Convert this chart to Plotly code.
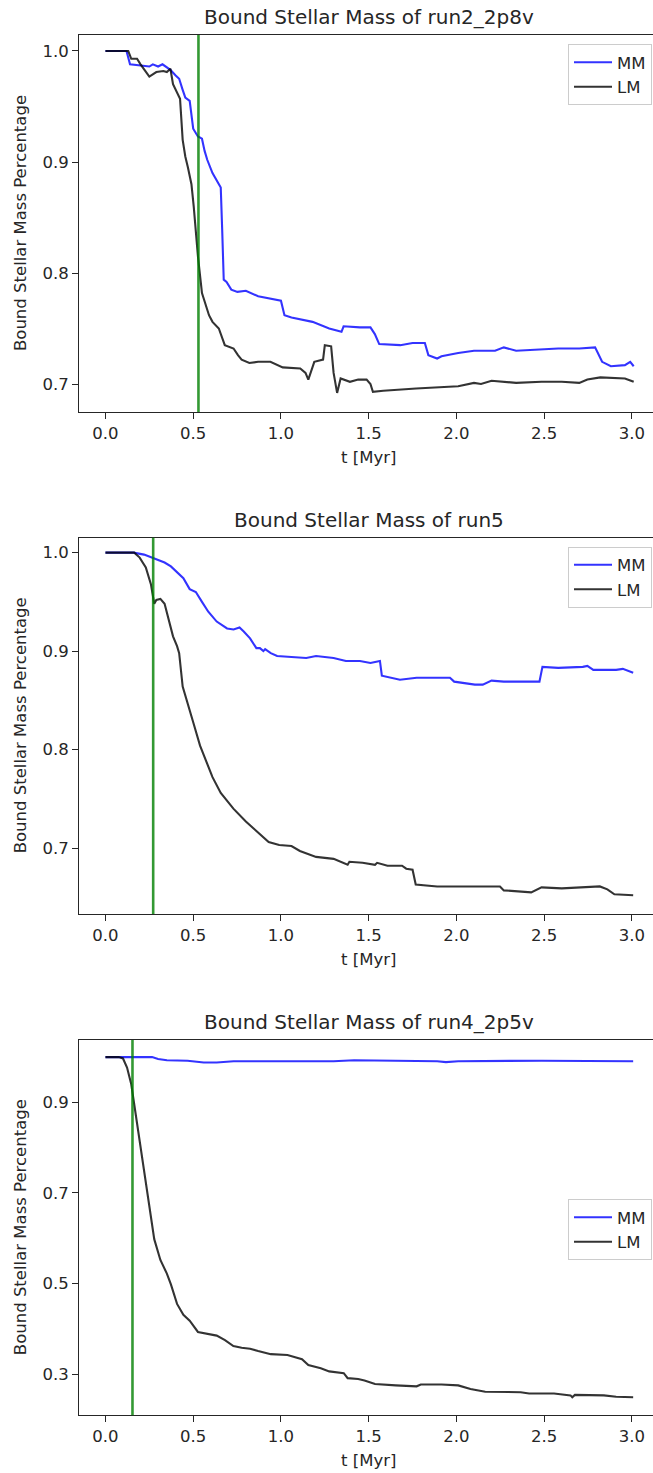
import plotly.graph_objects as go

# ---------------- data ----------------
titles = ["Bound Stellar Mass of run2_2p8v", "Bound Stellar Mass of run5", "Bound Stellar Mass of run4_2p5v"]
vline_t = [0.53, 0.272, 0.154]
x_ticks = [0.0, 0.5, 1.0, 1.5, 2.0, 2.5, 3.0]
y_ticks_1 = [0.7, 0.8, 0.9, 1.0]
y_ticks_2 = [0.7, 0.8, 0.9, 1.0]
y_ticks_3 = [0.3, 0.5, 0.7, 0.9]

t1_mm = [0.0, 0.12, 0.14, 0.2, 0.25, 0.27, 0.3, 0.325, 0.35, 0.37, 0.4, 0.42, 0.44, 0.455, 0.48, 0.5, 0.527,
         0.55, 0.565, 0.58, 0.61, 0.64, 0.657, 0.665, 0.674, 0.69, 0.717, 0.752, 0.8, 0.87, 0.94, 1.0, 1.02,
         1.06, 1.18, 1.275, 1.345, 1.357, 1.45, 1.51, 1.535, 1.56, 1.68, 1.75, 1.82, 1.84, 1.89, 1.915, 2.01,
         2.1, 2.22, 2.27, 2.34, 2.45, 2.58, 2.7, 2.79, 2.83, 2.88, 2.96, 2.99, 3.01]
m1_mm = [1.0, 1.0, 0.988, 0.987, 0.986, 0.988, 0.986, 0.988, 0.985, 0.983, 0.978, 0.975, 0.965, 0.958, 0.955,
         0.93, 0.923, 0.921, 0.91, 0.902, 0.89, 0.882, 0.877, 0.84, 0.794, 0.792, 0.785, 0.783, 0.784, 0.779,
         0.777, 0.775, 0.762, 0.76, 0.756, 0.75, 0.747, 0.752, 0.751, 0.751, 0.745, 0.736, 0.735, 0.737, 0.737,
         0.726, 0.723, 0.725, 0.728, 0.73, 0.73, 0.733, 0.73, 0.731, 0.732, 0.732, 0.733, 0.72, 0.716, 0.717,
         0.72, 0.716]

t1_lm = [0.0, 0.13, 0.147, 0.18, 0.2, 0.218, 0.25, 0.29, 0.33, 0.35, 0.37, 0.385, 0.41, 0.425, 0.44, 0.455,
         0.47, 0.49, 0.503, 0.515, 0.527, 0.55, 0.574, 0.59, 0.61, 0.646, 0.68, 0.73, 0.755, 0.776, 0.82, 0.87,
         0.94, 1.01, 1.11, 1.14, 1.156, 1.175, 1.19, 1.24, 1.25, 1.286, 1.3, 1.32, 1.34, 1.393, 1.44, 1.488,
         1.51, 1.524, 1.583, 1.77, 1.9, 2.01, 2.1, 2.14, 2.2, 2.34, 2.485, 2.6, 2.7, 2.746, 2.82, 2.96, 3.01]
m1_lm = [1.0, 1.0, 0.993, 0.993, 0.988, 0.984, 0.977, 0.981, 0.982, 0.981, 0.984, 0.97, 0.962, 0.957, 0.92,
         0.905, 0.895, 0.88, 0.86, 0.835, 0.815, 0.782, 0.77, 0.762, 0.756, 0.75, 0.735, 0.732, 0.726, 0.722,
         0.719, 0.72, 0.72, 0.715, 0.714, 0.71, 0.704, 0.714, 0.72, 0.722, 0.735, 0.734, 0.71, 0.692, 0.705,
         0.702, 0.704, 0.704, 0.7, 0.693, 0.694, 0.696, 0.697, 0.698, 0.701, 0.7, 0.703, 0.701, 0.702, 0.702,
         0.701, 0.704, 0.706, 0.705, 0.702]

t2_mm = [0.0, 0.16, 0.22, 0.28, 0.337, 0.373, 0.408, 0.444, 0.48, 0.515, 0.55, 0.586, 0.634, 0.693, 0.73,
         0.764, 0.788, 0.824, 0.86, 0.88, 0.9, 0.91, 0.942, 0.978, 1.06, 1.144, 1.2, 1.3, 1.37, 1.45, 1.51,
         1.55, 1.564, 1.575, 1.6, 1.678, 1.773, 1.963, 1.987, 2.105, 2.15, 2.176, 2.2, 2.27, 2.473, 2.49,
         2.58, 2.72, 2.746, 2.78, 2.91, 2.948, 3.007]
m2_mm = [1.0, 1.0, 0.998, 0.994, 0.99, 0.986, 0.98, 0.974, 0.963, 0.96, 0.95, 0.94, 0.93, 0.923, 0.922,
         0.924, 0.92, 0.913, 0.903, 0.903, 0.9, 0.902, 0.898, 0.895, 0.894, 0.893, 0.895, 0.893, 0.89, 0.89,
         0.888, 0.89, 0.89, 0.875, 0.874, 0.871, 0.873, 0.873, 0.869, 0.866, 0.866, 0.868, 0.87, 0.869, 0.869,
         0.884, 0.883, 0.884, 0.885, 0.881, 0.881, 0.882, 0.878]

t2_lm = [0.0, 0.164, 0.195, 0.23, 0.259, 0.278, 0.29, 0.313, 0.337, 0.36, 0.385, 0.408, 0.42, 0.44, 0.468,
         0.503, 0.539, 0.574, 0.61, 0.657, 0.729, 0.8, 0.871, 0.93, 0.99, 1.06, 1.108, 1.2, 1.3, 1.38, 1.39,
         1.465, 1.536, 1.548, 1.607, 1.69, 1.714, 1.75, 1.768, 1.89, 2.01, 2.248, 2.27, 2.343, 2.426, 2.485,
         2.6, 2.817, 2.86, 2.9, 3.007]
m2_lm = [1.0, 1.0, 0.995, 0.985, 0.968, 0.948, 0.952, 0.953, 0.948, 0.932, 0.915, 0.905, 0.898, 0.864, 0.846,
         0.826, 0.804, 0.789, 0.772, 0.756, 0.74, 0.727, 0.715, 0.706, 0.703, 0.702, 0.697, 0.691, 0.689,
         0.683, 0.686, 0.685, 0.683, 0.685, 0.682, 0.682, 0.679, 0.678, 0.663, 0.661, 0.661, 0.661, 0.657,
         0.656, 0.655, 0.66, 0.659, 0.661, 0.658, 0.653, 0.652]

t3_mm = [0.0, 0.2, 0.23, 0.266, 0.3, 0.35, 0.468, 0.56, 0.634, 0.73, 0.94, 1.3, 1.417, 1.654, 1.89, 1.94,
         2.01, 2.485, 3.007]
m3_mm = [1.0, 1.0, 1.001, 1.0, 0.996, 0.993, 0.992, 0.988, 0.988, 0.991, 0.991, 0.991, 0.993, 0.992, 0.991,
         0.989, 0.991, 0.992, 0.991]

t3_lm = [0.0, 0.076, 0.1, 0.123, 0.147, 0.17, 0.195, 0.215, 0.235, 0.255, 0.278, 0.313, 0.35, 0.373,
         0.408, 0.444, 0.48, 0.527, 0.586, 0.634, 0.681, 0.729, 0.776, 0.824, 0.87, 0.942, 1.037, 1.073, 1.12,
         1.156, 1.227, 1.275, 1.358, 1.38, 1.44, 1.476, 1.536, 1.654, 1.773, 1.797, 1.915, 2.01, 2.08, 2.164,
         2.366, 2.414, 2.556, 2.65, 2.66, 2.675, 2.84, 2.91, 3.007]
m3_lm = [1.0, 1.0, 0.997, 0.977, 0.94, 0.878, 0.815, 0.762, 0.71, 0.655, 0.598, 0.552, 0.522, 0.498,
         0.455, 0.431, 0.418, 0.393, 0.389, 0.385, 0.375, 0.362, 0.358, 0.356, 0.351, 0.344, 0.342, 0.338,
         0.333, 0.32, 0.313, 0.306, 0.302, 0.291, 0.289, 0.286, 0.278, 0.275, 0.273, 0.277, 0.277, 0.275,
         0.267, 0.261, 0.26, 0.257, 0.257, 0.253, 0.249, 0.254, 0.253, 0.25, 0.249]

# ---------------- layout helpers ----------------
W, H = 653, 1473
FONT = "DejaVu Sans"
TXT = "#262626"
px_left = 79.3
# (top, bottom) pixel positions of each axes box
boxes = [(35, 412), (537.7, 914), (1040, 1415.3)]
y_ranges = [[0.6748, 1.0144], [0.633, 1.0152], [0.209, 1.0378]]
x_range = [-0.149, 3.12]
legend_tops = [44, 546.5, 1199]
axes_center_x = 368.5

def py(p):
    return 1 - p / H

series = [(t1_mm, m1_mm, t1_lm, m1_lm, y_ticks_1),
          (t2_mm, m2_mm, t2_lm, m2_lm, y_ticks_2),
          (t3_mm, m3_mm, t3_lm, m3_lm, y_ticks_3)]

fig = go.Figure()
annotations = []
shapes = []
layout_kw = {}
for i, (tm, mm, tl, ml, yt) in enumerate(series):
    n = i + 1
    xa = "x" if n == 1 else f"x{n}"
    ya = "y" if n == 1 else f"y{n}"
    lg = "legend" if n == 1 else f"legend{n}"
    fig.add_trace(go.Scatter(x=tm, y=mm, mode="lines", name="MM", xaxis=xa, yaxis=ya, legend=lg,
                             line=dict(color="rgba(0,0,255,0.8)", width=2.1)))
    fig.add_trace(go.Scatter(x=tl, y=ml, mode="lines", name="LM", xaxis=xa, yaxis=ya, legend=lg,
                             line=dict(color="rgba(0,0,0,0.8)", width=2.1)))
    top, bot = boxes[i]
    xk = "xaxis" if n == 1 else f"xaxis{n}"
    yk = "yaxis" if n == 1 else f"yaxis{n}"
    layout_kw[xk] = dict(domain=[px_left / W, 1.0], range=x_range, anchor=ya,
                         tickvals=x_ticks, ticktext=[f"{v:.1f}" for v in x_ticks],
                         showline=True, mirror=True, linecolor=TXT, linewidth=1.3,
                         ticks="outside", ticklen=6, tickwidth=1.3, tickcolor=TXT,
                         showgrid=False, zeroline=False,
                         tickfont=dict(family=FONT, size=16.5, color=TXT))
    layout_kw[yk] = dict(domain=[py(bot), py(top)], range=y_ranges[i], anchor=xa,
                         tickvals=yt, ticktext=[f"{v:.1f}" for v in yt],
                         showline=True, mirror=False, linecolor=TXT, linewidth=1.3,
                         ticks="outside", ticklen=6, tickwidth=1.3, tickcolor=TXT,
                         showgrid=False, zeroline=False,
                         tickfont=dict(family=FONT, size=16.5, color=TXT))
    layout_kw[lg] = dict(x=652 / W, xanchor="right", y=py(legend_tops[i]), yanchor="top",
                         bgcolor="rgba(255,255,255,0.8)", bordercolor="#cccccc", borderwidth=1,
                         font=dict(family=FONT, size=16.5, color=TXT), itemwidth=38,
                         tracegroupgap=0)
    shapes.append(dict(type="line", xref=xa, yref=f"{ya} domain", x0=vline_t[i], x1=vline_t[i], y0=0, y1=1,
                       line=dict(color="rgba(0,128,0,0.8)", width=2.6), layer="above"))
    annotations.append(dict(text=titles[i], xref="paper", yref="paper", x=axes_center_x / W, y=py(top - 18),
                            xanchor="center", yanchor="middle", showarrow=False,
                            font=dict(family=FONT, size=20, color=TXT)))
    annotations.append(dict(text="Bound Stellar Mass Percentage", xref="paper", yref="paper", x=20.5 / W,
                            y=py((top + bot) / 2), xanchor="center", yanchor="middle", textangle=-90,
                            showarrow=False, font=dict(family=FONT, size=16.5, color=TXT)))
    annotations.append(dict(text="t [Myr]", xref="paper", yref="paper", x=axes_center_x / W, y=py(bot + 45),
                            xanchor="center", yanchor="middle", showarrow=False,
                            font=dict(family=FONT, size=16.5, color=TXT)))

fig.update_layout(width=W, height=H, margin=dict(l=0, r=0, t=0, b=0),
                  paper_bgcolor="white", plot_bgcolor="white",
                  annotations=annotations, shapes=shapes, **layout_kw)

fig.write_html("out.html")
